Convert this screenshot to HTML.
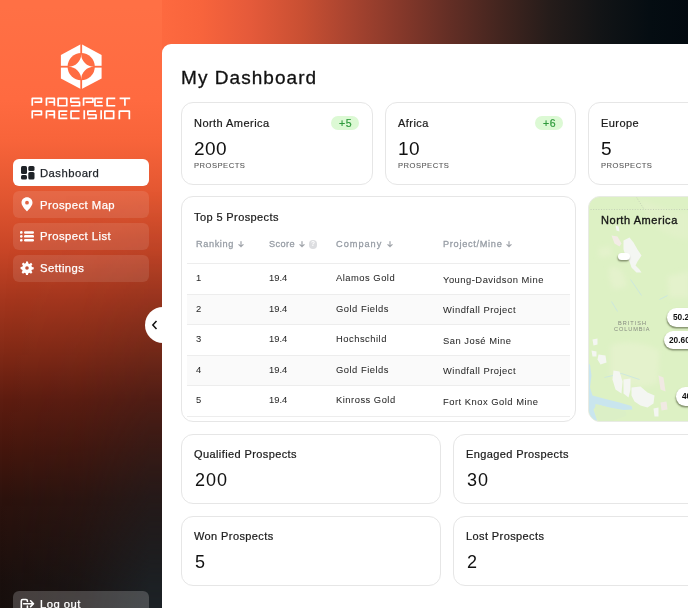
<!DOCTYPE html>
<html><head><meta charset="utf-8"><style>
*{margin:0;padding:0;box-sizing:border-box}
html,body{width:688px;height:608px;overflow:hidden}
body{position:relative;font-family:"Liberation Sans",sans-serif;background:#111}
.abs{position:absolute}
.t{position:absolute;line-height:1;white-space:nowrap;will-change:transform}
.nav{position:absolute;left:13px;width:136px;height:26.5px;border-radius:6px;background:rgba(255,255,255,0.1)}
.nav.active{background:#fff}
.card{position:absolute;background:#fff;border:1px solid #e6e6e6;border-radius:12px}
.badge{position:absolute;background:#dcf9d4;border-radius:8px;height:14.5px;width:28px}
.pill{position:absolute;background:#fff;border-radius:10px;box-shadow:-0.5px 1.5px 1.5px rgba(60,70,40,0.55)}
</style></head><body>
<div class="abs" style="left:0;top:0;width:688px;height:80px;background:linear-gradient(90deg,#ff7045 6px,#ff6b40 150px,#f8643c 200px,#e55a3a 250px,#ca5033 300px,#ac4530 344px,#86382a 400px,#632e25 450px,#43251f 500px,#251c1a 550px,#121416 600px,#050d12 650px,#030a10 688px)"></div>
<div class="abs" style="left:0;top:0;width:162px;height:608px;background:linear-gradient(180deg,#ff7045 6px,#ff6a40 100px,#f8643a 140px,#e05530 200px,#c84526 250px,#a5361d 300px,#842a16 350px,#5e1c10 400px,#45160d 450px,#2c120d 500px,#190f0d 584px,#170f0d 608px)"></div>
<div class="abs" style="left:0;top:0;width:162px;height:608px;background:linear-gradient(90deg,rgba(29,34,38,0) 0px,rgba(29,34,38,0.3) 80px,rgba(29,34,38,1) 150px,rgba(29,34,38,1) 162px);-webkit-mask-image:linear-gradient(180deg,rgba(0,0,0,0) 190px,rgba(0,0,0,0.1) 300px,rgba(0,0,0,0.22) 400px,rgba(0,0,0,0.47) 500px,rgba(0,0,0,0.75) 560px,rgba(0,0,0,0.9) 584px,rgba(0,0,0,1) 608px)"></div>
<svg class="abs" style="left:0;top:0" width="162" height="130" viewBox="0 0 162 130">
  <defs><mask id="lm">
      <rect x="0" y="0" width="162" height="130" fill="#fff"/>
      <circle cx="81.2" cy="66.7" r="13.6" fill="#000"/>
      <rect x="80.3" y="40" width="1.8" height="52" fill="#000"/>
      <rect x="55" y="65.8" width="52" height="1.8" fill="#000"/>
  </mask></defs>
  <polygon points="81.2,44 101.6,55 101.6,78.4 81.2,89.3 60.9,78.4 60.9,55" fill="#fff" mask="url(#lm)"/>
  <path d="M81.2 54 A12.7 12.7 0 0 0 93.9 66.7 A12.7 12.7 0 0 0 81.2 79.4 A12.7 12.7 0 0 0 68.5 66.7 A12.7 12.7 0 0 0 81.2 54 Z" fill="#fff"/>
</svg>
<svg class="abs" style="left:0;top:0" width="162" height="130" viewBox="0 0 162 130"><path d="M32.25 105.75V98.35H41.45V102.05H34.40M46.45 105.75V98.35H54.35V102.05H48.60M54.35 102.05V105.75M58.15 98.35H66.75V105.75H58.15ZM79.55 98.35H70.85V102.05H79.55V105.75H70.85M83.55 105.75V98.35H92.95V102.05H85.70M102.85 98.35H94.95V105.75H102.85M97.10 102.05H102.25M115.25 98.35H107.15V105.75H115.25M119.60 98.35H130.20M124.90 98.35V105.75M32.25 118.45V111.05H41.45V114.75H34.40M46.45 118.45V111.05H54.35V114.75H48.60M54.35 114.75V118.45M67.35 111.05H59.15V118.45H67.35M61.30 114.75H66.75M79.55 111.05H71.05V118.45H79.55M84.25 110.20V119.30M96.05 111.05H87.85V114.75H96.05V118.45H87.85M101.15 110.20V119.30M104.85 111.05H113.65V118.45H104.85ZM119.35 119.30V111.05H129.35V119.30" fill="none" stroke="#fff" stroke-width="1.7" stroke-linejoin="round"/></svg>
<div class="nav active" style="top:159.3px;height:26.5px"><svg class="abs" style="left:7.5px;top:6.7px" width="14" height="14" viewBox="0 0 14 14" fill="#1f2328">
<rect x="0" y="0" width="6" height="8" rx="1.5"/><rect x="7.3" y="0" width="6.2" height="5" rx="1.5"/>
<rect x="0" y="9" width="6" height="4.5" rx="1.5"/><rect x="7.3" y="6" width="6.2" height="7.5" rx="1.5"/></svg></div>
<div class="t" style="left:40.30px;top:167.53px;font-size:11.3px;letter-spacing:0.45px;color:#1f2328;font-weight:normal;-webkit-text-stroke:0.25px #1f2328;">Dashboard</div>
<div class="nav" style="top:191.3px;height:26.5px"><svg class="abs" style="left:8.3px;top:6px" width="12" height="15" viewBox="0 0 12 15">
<path d="M6 0.3C2.9 0.3 0.5 2.7 0.5 5.7C0.5 9.3 6 14.3 6 14.3S11.5 9.3 11.5 5.7C11.5 2.7 9.1 0.3 6 0.3Z M6 3.8A1.9 1.9 0 1 1 6 7.6A1.9 1.9 0 1 1 6 3.8Z" fill="#fff" fill-rule="evenodd"/></svg></div>
<div class="t" style="left:40.30px;top:199.53px;font-size:11.3px;letter-spacing:0.45px;color:#fff;font-weight:normal;-webkit-text-stroke:0.25px #fff;">Prospect Map</div>
<div class="nav" style="top:223.2px;height:26.5px"><svg class="abs" style="left:7.2px;top:8.2px" width="14" height="11" viewBox="0 0 14 11" fill="#fff">
<circle cx="1.3" cy="1.45" r="1.35"/><circle cx="1.3" cy="5.35" r="1.35"/><circle cx="1.3" cy="9.25" r="1.35"/>
<rect x="4" y="0.2" width="10" height="2.5" rx="1.2"/><rect x="4" y="4.1" width="10" height="2.5" rx="1.2"/><rect x="4" y="8.0" width="10" height="2.5" rx="1.2"/></svg></div>
<div class="t" style="left:40.30px;top:231.43px;font-size:11.3px;letter-spacing:0.45px;color:#fff;font-weight:normal;-webkit-text-stroke:0.25px #fff;">Prospect List</div>
<div class="nav" style="top:255.2px;height:26.5px"><svg class="abs" style="left:7.2px;top:5.8px" width="14" height="14" viewBox="0 0 24 24">
<path fill="#fff" fill-rule="evenodd" d="M10.3 1h3.4l.6 3.1c.7.2 1.4.5 2 .9l2.6-1.8 2.4 2.4-1.8 2.6c.4.6.7 1.3.9 2l3.1.6v3.4l-3.1.6c-.2.7-.5 1.4-.9 2l1.8 2.6-2.4 2.4-2.6-1.8c-.6.4-1.3.7-2 .9l-.6 3.1h-3.4l-.6-3.1c-.7-.2-1.4-.5-2-.9l-2.6 1.8-2.4-2.4 1.8-2.6c-.4-.6-.7-1.3-.9-2L1 13.7v-3.4l3.1-.6c.2-.7.5-1.4.9-2L3.2 5.1l2.4-2.4 2.6 1.8c.6-.4 1.3-.7 2-.9zM12 8.9a3.1 3.1 0 1 0 0 6.2 3.1 3.1 0 1 0 0-6.2z"/></svg></div>
<div class="t" style="left:40.30px;top:263.43px;font-size:11.3px;letter-spacing:0.45px;color:#fff;font-weight:normal;-webkit-text-stroke:0.25px #fff;">Settings</div>
<div class="nav" style="top:590.7px;height:30px;background:rgba(255,255,255,0.2)"><svg class="abs" style="left:0;top:0" width="30" height="30" viewBox="0 0 30 30" fill="none" stroke="#fff" stroke-width="1.6" stroke-linecap="round" stroke-linejoin="round">
<path d="M14.4 10.4V9.9C14.4 9 13.9 8.5 13 8.5H9.7C8.8 8.5 8.3 9 8.3 9.9V22C8.3 22.9 8.8 23.4 9.7 23.4H13C13.9 23.4 14.4 22.9 14.4 22V15"/>
<path d="M10.6 12.7H20.4M17.6 9.8L20.5 12.7L17.6 15.6"/></svg></div>
<div class="t" style="left:40.30px;top:598.93px;font-size:11.3px;letter-spacing:0.45px;color:#fff;font-weight:normal;-webkit-text-stroke:0.25px #fff;">Log out</div>
<div class="abs" style="left:162px;top:44px;width:600px;height:620px;background:#fff;border-radius:9px 0 0 0"></div>
<div class="abs" style="left:145px;top:306.8px;width:36px;height:36px;border-radius:50%;background:#fff"></div>
<svg class="abs" style="left:150px;top:319px" width="10" height="12" viewBox="0 0 10 12" fill="none" stroke="#111" stroke-width="1.5"><path d="M6.5 2L2.8 6L6.5 10"/></svg>
<div class="t" style="left:180.60px;top:67.92px;font-size:19px;letter-spacing:1.05px;color:#111;font-weight:normal;-webkit-text-stroke:0.3px #111;">My Dashboard</div>
<div class="card" style="left:181px;top:102px;width:192px;height:83px"></div>
<div class="t" style="left:193.70px;top:118.39px;font-size:11px;letter-spacing:0.45px;color:#1b1b1b;font-weight:normal;-webkit-text-stroke:0.22px #1b1b1b;">North America</div>
<div class="t" style="left:194.10px;top:138.92px;font-size:19px;letter-spacing:0.45px;color:#111;font-weight:normal;">200</div>
<div class="t" style="left:194.20px;top:161.87px;font-size:7.6px;letter-spacing:0.5px;color:#5c5c5c;font-weight:normal;-webkit-text-stroke:0.12px #5c5c5c;">PROSPECTS</div>
<div class="badge" style="left:331px;top:115.6px"></div>
<div class="t" style="left:338.50px;top:118.31px;font-size:10.5px;letter-spacing:0.5px;color:#2f9a3c;font-weight:normal;-webkit-text-stroke:0.2px #2f9a3c;">+5</div>
<div class="card" style="left:385px;top:102px;width:191px;height:83px"></div>
<div class="t" style="left:397.70px;top:118.39px;font-size:11px;letter-spacing:0.45px;color:#1b1b1b;font-weight:normal;-webkit-text-stroke:0.22px #1b1b1b;">Africa</div>
<div class="t" style="left:398.10px;top:138.92px;font-size:19px;letter-spacing:0.45px;color:#111;font-weight:normal;">10</div>
<div class="t" style="left:398.20px;top:161.87px;font-size:7.6px;letter-spacing:0.5px;color:#5c5c5c;font-weight:normal;-webkit-text-stroke:0.12px #5c5c5c;">PROSPECTS</div>
<div class="badge" style="left:535px;top:115.6px"></div>
<div class="t" style="left:542.50px;top:118.31px;font-size:10.5px;letter-spacing:0.5px;color:#2f9a3c;font-weight:normal;-webkit-text-stroke:0.2px #2f9a3c;">+6</div>
<div class="card" style="left:588px;top:102px;width:191px;height:83px"></div>
<div class="t" style="left:600.70px;top:118.39px;font-size:11px;letter-spacing:0.45px;color:#1b1b1b;font-weight:normal;-webkit-text-stroke:0.22px #1b1b1b;">Europe</div>
<div class="t" style="left:601.10px;top:138.92px;font-size:19px;letter-spacing:0.45px;color:#111;font-weight:normal;">5</div>
<div class="t" style="left:601.20px;top:161.87px;font-size:7.6px;letter-spacing:0.5px;color:#5c5c5c;font-weight:normal;-webkit-text-stroke:0.12px #5c5c5c;">PROSPECTS</div>
<div class="card" style="left:181px;top:196px;width:395px;height:226px"></div>
<div class="t" style="left:194.20px;top:211.89px;font-size:11px;letter-spacing:0.4px;color:#1b1b1b;font-weight:normal;-webkit-text-stroke:0.22px #1b1b1b;">Top 5 Prospects</div>
<div class="t" style="left:196.00px;top:239.61px;font-size:9.2px;letter-spacing:0.6px;color:#969ca4;font-weight:normal;-webkit-text-stroke:0.28px #969ca4;">Ranking</div>
<div class="t" style="left:269.40px;top:239.61px;font-size:9.2px;letter-spacing:0.4px;color:#969ca4;font-weight:normal;-webkit-text-stroke:0.28px #969ca4;">Score</div>
<div class="t" style="left:335.80px;top:239.61px;font-size:9.2px;letter-spacing:1.0px;color:#969ca4;font-weight:normal;-webkit-text-stroke:0.28px #969ca4;">Company</div>
<div class="t" style="left:442.80px;top:239.61px;font-size:9.2px;letter-spacing:0.7px;color:#969ca4;font-weight:normal;-webkit-text-stroke:0.28px #969ca4;">Project/Mine</div>
<svg class="abs" style="left:238.2px;top:241px" width="6" height="6.5" viewBox="0 0 6 6.5" fill="none" stroke="#a0a4aa" stroke-width="1.2" stroke-linecap="round" stroke-linejoin="round"><path d="M3 0.6V5.7M0.9 3.6L3 5.7L5.1 3.6"/></svg>
<svg class="abs" style="left:299.4px;top:241px" width="6" height="6.5" viewBox="0 0 6 6.5" fill="none" stroke="#a0a4aa" stroke-width="1.2" stroke-linecap="round" stroke-linejoin="round"><path d="M3 0.6V5.7M0.9 3.6L3 5.7L5.1 3.6"/></svg>
<svg class="abs" style="left:386.7px;top:241px" width="6" height="6.5" viewBox="0 0 6 6.5" fill="none" stroke="#a0a4aa" stroke-width="1.2" stroke-linecap="round" stroke-linejoin="round"><path d="M3 0.6V5.7M0.9 3.6L3 5.7L5.1 3.6"/></svg>
<svg class="abs" style="left:505.9px;top:241px" width="6" height="6.5" viewBox="0 0 6 6.5" fill="none" stroke="#a0a4aa" stroke-width="1.2" stroke-linecap="round" stroke-linejoin="round"><path d="M3 0.6V5.7M0.9 3.6L3 5.7L5.1 3.6"/></svg>
<div class="abs" style="left:308.7px;top:240.4px;width:8.2px;height:8.3px;border-radius:50%;background:#dcdde0"></div>
<div class="t" style="left:311.00px;top:241.40px;font-size:6.5px;letter-spacing:0px;color:#fff;font-weight:bold;">?</div>
<div class="abs" style="left:187px;top:294px;width:383px;height:30px;background:#fafafa"></div>
<div class="abs" style="left:187px;top:355px;width:383px;height:30px;background:#fafafa"></div>
<div class="abs" style="left:187px;top:263px;width:383px;height:1px;background:#ededed"></div>
<div class="abs" style="left:187px;top:294px;width:383px;height:1px;background:#ededed"></div>
<div class="abs" style="left:187px;top:324px;width:383px;height:1px;background:#ededed"></div>
<div class="abs" style="left:187px;top:355px;width:383px;height:1px;background:#ededed"></div>
<div class="abs" style="left:187px;top:385px;width:383px;height:1px;background:#ededed"></div>
<div class="abs" style="left:187px;top:416px;width:383px;height:1px;background:#ededed"></div>
<div class="t" style="left:196.00px;top:273.24px;font-size:9.4px;letter-spacing:0.5px;color:#2b2b2b;font-weight:normal;-webkit-text-stroke:0.05px #2b2b2b;">1</div>
<div class="t" style="left:269.40px;top:273.24px;font-size:9.4px;letter-spacing:0px;color:#2b2b2b;font-weight:normal;-webkit-text-stroke:0.05px #2b2b2b;">19.4</div>
<div class="t" style="left:335.80px;top:273.24px;font-size:9.4px;letter-spacing:0.5px;color:#2b2b2b;font-weight:normal;-webkit-text-stroke:0.05px #2b2b2b;">Alamos Gold</div>
<div class="t" style="left:442.80px;top:274.84px;font-size:9.4px;letter-spacing:0.5px;color:#2b2b2b;font-weight:normal;-webkit-text-stroke:0.05px #2b2b2b;">Young-Davidson Mine</div>
<div class="t" style="left:196.00px;top:303.74px;font-size:9.4px;letter-spacing:0.5px;color:#2b2b2b;font-weight:normal;-webkit-text-stroke:0.05px #2b2b2b;">2</div>
<div class="t" style="left:269.40px;top:303.74px;font-size:9.4px;letter-spacing:0px;color:#2b2b2b;font-weight:normal;-webkit-text-stroke:0.05px #2b2b2b;">19.4</div>
<div class="t" style="left:335.80px;top:303.74px;font-size:9.4px;letter-spacing:0.5px;color:#2b2b2b;font-weight:normal;-webkit-text-stroke:0.05px #2b2b2b;">Gold Fields</div>
<div class="t" style="left:442.80px;top:305.34px;font-size:9.4px;letter-spacing:0.5px;color:#2b2b2b;font-weight:normal;-webkit-text-stroke:0.05px #2b2b2b;">Windfall Project</div>
<div class="t" style="left:196.00px;top:334.24px;font-size:9.4px;letter-spacing:0.5px;color:#2b2b2b;font-weight:normal;-webkit-text-stroke:0.05px #2b2b2b;">3</div>
<div class="t" style="left:269.40px;top:334.24px;font-size:9.4px;letter-spacing:0px;color:#2b2b2b;font-weight:normal;-webkit-text-stroke:0.05px #2b2b2b;">19.4</div>
<div class="t" style="left:335.80px;top:334.24px;font-size:9.4px;letter-spacing:0.5px;color:#2b2b2b;font-weight:normal;-webkit-text-stroke:0.05px #2b2b2b;">Hochschild</div>
<div class="t" style="left:442.80px;top:335.84px;font-size:9.4px;letter-spacing:0.5px;color:#2b2b2b;font-weight:normal;-webkit-text-stroke:0.05px #2b2b2b;">San Jos&eacute; Mine</div>
<div class="t" style="left:196.00px;top:364.74px;font-size:9.4px;letter-spacing:0.5px;color:#2b2b2b;font-weight:normal;-webkit-text-stroke:0.05px #2b2b2b;">4</div>
<div class="t" style="left:269.40px;top:364.74px;font-size:9.4px;letter-spacing:0px;color:#2b2b2b;font-weight:normal;-webkit-text-stroke:0.05px #2b2b2b;">19.4</div>
<div class="t" style="left:335.80px;top:364.74px;font-size:9.4px;letter-spacing:0.5px;color:#2b2b2b;font-weight:normal;-webkit-text-stroke:0.05px #2b2b2b;">Gold Fields</div>
<div class="t" style="left:442.80px;top:366.34px;font-size:9.4px;letter-spacing:0.5px;color:#2b2b2b;font-weight:normal;-webkit-text-stroke:0.05px #2b2b2b;">Windfall Project</div>
<div class="t" style="left:196.00px;top:395.24px;font-size:9.4px;letter-spacing:0.5px;color:#2b2b2b;font-weight:normal;-webkit-text-stroke:0.05px #2b2b2b;">5</div>
<div class="t" style="left:269.40px;top:395.24px;font-size:9.4px;letter-spacing:0px;color:#2b2b2b;font-weight:normal;-webkit-text-stroke:0.05px #2b2b2b;">19.4</div>
<div class="t" style="left:335.80px;top:395.24px;font-size:9.4px;letter-spacing:0.5px;color:#2b2b2b;font-weight:normal;-webkit-text-stroke:0.05px #2b2b2b;">Kinross Gold</div>
<div class="t" style="left:442.80px;top:396.84px;font-size:9.4px;letter-spacing:0.5px;color:#2b2b2b;font-weight:normal;-webkit-text-stroke:0.05px #2b2b2b;">Fort Knox Gold Mine</div>
<div class="card" style="left:588px;top:196px;width:200px;height:226px;background:#ddf1c4;overflow:hidden;border-color:#e8ebe4"><svg class="abs" style="left:-1px;top:-1px" width="200" height="226" viewBox="588.5 196.5 200 226"><defs><filter id="bl" x="-20%" y="-20%" width="140%" height="140%"><feGaussianBlur stdDeviation="2.5"/></filter></defs><g fill="#e4f2cc" filter="url(#bl)"><path d="M611 346 C625 340 650 344 660 352 L658 384 C640 390 620 386 611 378 Z"/><path d="M599 249 L611 247 L613 256 L600 258 Z"/><path d="M610 268 C618 265 626 272 627 287 L614 290 C610 282 609 275 610 268 Z"/><path d="M668 277 L690 272 L690 298 L670 298 Z"/><path d="M640 200 C655 205 675 215 690 212 L690 240 C670 238 650 228 640 200 Z" opacity="0.6"/></g><g fill="#c9e5ee"><path d="M588 364 L590.5 365 L592 376 L590.5 388 L593 396 L606 399.5 L620 403 L632 406.5 L633 410 L624 410.5 L610 408 L598 405 L594 410 L598 422 L588 422 Z"/></g><path d="M596 404.5 L610 408.5 L626 411.5 L627 416 L620 419 L610 422 L599 422 L595.5 412 Z" fill="#dbefc6"/><g fill="none" stroke="#c4e2e6" stroke-width="0.7"><path d="M631 280 L642 296"/><path d="M612 302 L618 312"/><path d="M605 378 L622 374 L640 380"/><path d="M660 300 L668 296"/></g><g fill="#f4f6f2"><path d="M624 241 L630 238 L634 243 L638 250 L642 256 L638 262 L636 266 L640 270 L642 273 L637 273 L632 268 L630 262 L626 256 L624 250 Z"/><path d="M612 236 L618 237 L622 244 L620 247 L615 244 Z" fill="#f3ece6"/><path d="M616 226 L619 227 L620 232 L617 231 Z"/><path d="M614 371 L620 372 L623 382 L622 394 L616 390 L613 380 Z"/><path d="M624 380 L631 379 L631 390 L629 398 L624 394 Z"/><path d="M632 388 L641 387 L648 393 L655 396 L654 404 L648 408 L641 406 L635 402 L632 396 Z"/><path d="M654 409 L659 408 L659 417 L655 417 Z"/><path d="M592 351 L597 352 L597 357 L593 357 Z"/><path d="M599 355 L606 356 L607 363 L601 365 L598 360 Z"/><path d="M593 340 L598 339 L598 345 L594 346 Z"/></g><g fill="#f1e9e3"><path d="M659 376 L664 378 L666 392 L661 390 Z"/><path d="M661 403 L667 402 L668 410 L662 411 Z"/></g><path d="M588.5 210 H690" stroke="#b9c4b0" stroke-width="0.7" stroke-dasharray="1 1.6"/><path d="M636.5 197 L644.7 210" stroke="#b9c4b0" stroke-width="0.7" stroke-dasharray="1 1.6"/></svg></div>
<div class="t" style="left:617.60px;top:320.86px;font-size:5.6px;letter-spacing:1.0px;color:#858a80;font-weight:normal;">BRITISH</div>
<div class="t" style="left:613.80px;top:327.06px;font-size:5.6px;letter-spacing:0.9px;color:#858a80;font-weight:normal;">COLUMBIA</div>
<div class="t" style="left:601.10px;top:215.09px;font-size:11px;letter-spacing:0.55px;color:#161616;font-weight:normal;-webkit-text-stroke:0.35px #161616;">North America</div>
<div class="pill" style="left:667px;top:308.4px;width:40px;height:18.6px;border-radius:9.3px"></div>
<div class="t" style="left:672.80px;top:313.37px;font-size:8.3px;letter-spacing:0px;color:#111;font-weight:bold;">50.2</div>
<div class="pill" style="left:663.6px;top:330.6px;width:40px;height:18.6px;border-radius:9.3px"></div>
<div class="t" style="left:669.40px;top:335.57px;font-size:8.3px;letter-spacing:0px;color:#111;font-weight:bold;">20.60</div>
<div class="pill" style="left:676.2px;top:387.2px;width:40px;height:18.6px;border-radius:9.3px"></div>
<div class="t" style="left:682.00px;top:392.17px;font-size:8.3px;letter-spacing:0px;color:#111;font-weight:bold;">40</div>
<div class="pill" style="left:618px;top:252.5px;width:12px;height:7.5px"></div>
<div class="card" style="left:181px;top:434px;width:260px;height:70px"></div>
<div class="t" style="left:194.00px;top:449.49px;font-size:11px;letter-spacing:0.4px;color:#1b1b1b;font-weight:normal;-webkit-text-stroke:0.22px #1b1b1b;">Qualified Prospects</div>
<div class="t" style="left:194.50px;top:471.26px;font-size:18px;letter-spacing:1px;color:#111;font-weight:normal;">200</div>
<div class="card" style="left:453px;top:434px;width:260px;height:70px"></div>
<div class="t" style="left:466.00px;top:449.49px;font-size:11px;letter-spacing:0.4px;color:#1b1b1b;font-weight:normal;-webkit-text-stroke:0.22px #1b1b1b;">Engaged Prospects</div>
<div class="t" style="left:466.50px;top:471.26px;font-size:18px;letter-spacing:1px;color:#111;font-weight:normal;">30</div>
<div class="card" style="left:181px;top:516px;width:260px;height:70px"></div>
<div class="t" style="left:194.00px;top:531.49px;font-size:11px;letter-spacing:0.4px;color:#1b1b1b;font-weight:normal;-webkit-text-stroke:0.22px #1b1b1b;">Won Prospects</div>
<div class="t" style="left:194.50px;top:553.26px;font-size:18px;letter-spacing:1px;color:#111;font-weight:normal;">5</div>
<div class="card" style="left:453px;top:516px;width:260px;height:70px"></div>
<div class="t" style="left:466.00px;top:531.49px;font-size:11px;letter-spacing:0.4px;color:#1b1b1b;font-weight:normal;-webkit-text-stroke:0.22px #1b1b1b;">Lost Prospects</div>
<div class="t" style="left:466.50px;top:553.26px;font-size:18px;letter-spacing:1px;color:#111;font-weight:normal;">2</div>
</body></html>
